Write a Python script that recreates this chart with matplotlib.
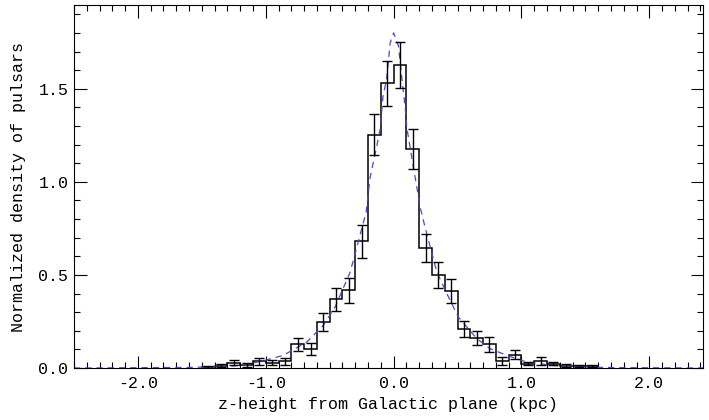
import numpy as np
import matplotlib
matplotlib.use("Agg")
import matplotlib.pyplot as plt
from matplotlib.ticker import MultipleLocator, FormatStrFormatter

# histogram bins (kpc) and normalized density of pulsars
bin_edges = [-1.5, -1.4, -1.3, -1.2, -1.1, -1.0, -0.9, -0.8, -0.7, -0.6, -0.5,
             -0.4, -0.3, -0.2, -0.1, 0.0, 0.1, 0.2, 0.3, 0.4, 0.5, 0.6, 0.7,
             0.8, 0.9, 1.0, 1.1, 1.2, 1.3, 1.4, 1.5, 1.6]
density = [0.005, 0.012, 0.029, 0.018, 0.036, 0.029, 0.036, 0.127, 0.104, 0.247,
           0.368, 0.417, 0.68, 1.253, 1.530, 1.627, 1.176, 0.645, 0.50, 0.413,
           0.211, 0.161, 0.127, 0.038, 0.072, 0.024, 0.038, 0.024, 0.012, 0.010,
           0.010]
density_err = [0.005, 0.008, 0.012, 0.010, 0.020, 0.014, 0.018, 0.035, 0.032,
               0.050, 0.060, 0.067, 0.090, 0.110, 0.120, 0.125, 0.107, 0.077,
               0.068, 0.066, 0.043, 0.038, 0.040, 0.020, 0.024, 0.010, 0.020,
               0.010, 0.008, 0.006, 0.006]

# model curve (dashed)
model_z = [-2.5, -1.6, -1.45, -1.25, -1.045, -0.863, -0.68, -0.55, -0.458, -0.34,
           -0.215, -0.184, -0.131, -0.105, -0.084, -0.053, -0.027, 0.0, 0.038,
           0.064, 0.09, 0.103, 0.208, 0.246, 0.338, 0.442, 0.507, 0.651, 0.754,
           0.886, 1.04, 1.25, 1.5, 1.75, 2.42]
model_rho = [0.0, 0.003, 0.006, 0.011, 0.034, 0.068, 0.139, 0.229, 0.327, 0.515,
             0.837, 1.024, 1.194, 1.284, 1.453, 1.56, 1.746, 1.80, 1.73,
             1.56, 1.40, 1.292, 0.863, 0.756, 0.515, 0.363, 0.273, 0.158, 0.104,
             0.068, 0.032, 0.013, 0.005, 0.002, 0.0]

plt.rcParams['font.family'] = ['Liberation Mono', 'DejaVu Sans Mono']
plt.rcParams['font.size'] = 12

fig = plt.figure(figsize=(7.09, 4.20), dpi=100)
ax = fig.add_axes([74/709, 52/420, 629/709, 363/420])

centers = 0.5 * (np.array(bin_edges[:-1]) + np.array(bin_edges[1:]))
ax.plot(model_z, model_rho, color='#5b3fe0', lw=0.9, dashes=(5, 4))
ax.stairs(density, bin_edges, baseline=0, color='black', lw=1.1)
ax.errorbar(centers, density, yerr=density_err, fmt='none', ecolor='black',
            elinewidth=1.0, capsize=3.5, capthick=1.0)

ax.set_xlim(-2.5, 2.42)
ax.set_ylim(0, 1.95)
ax.xaxis.set_major_locator(MultipleLocator(1.0))
ax.xaxis.set_minor_locator(MultipleLocator(0.1))
ax.yaxis.set_major_locator(MultipleLocator(0.5))
ax.yaxis.set_minor_locator(MultipleLocator(0.1))
ax.xaxis.set_major_formatter(FormatStrFormatter('%.1f'))
ax.yaxis.set_major_formatter(FormatStrFormatter('%.1f'))
ax.tick_params(which='both', direction='in', top=True, right=True, width=0.8)
ax.tick_params(which='major', length=9)
ax.tick_params(axis='x', which='major', pad=6)
ax.tick_params(axis='y', which='major', pad=4)
ax.tick_params(which='minor', length=4.5)
for s in ax.spines.values():
    s.set_linewidth(0.8)

ax.set_xlabel('z-height from Galactic plane (kpc)', labelpad=4)
ax.set_ylabel('Normalized density of pulsars', labelpad=9)

fig.savefig('out.png', dpi=100)
